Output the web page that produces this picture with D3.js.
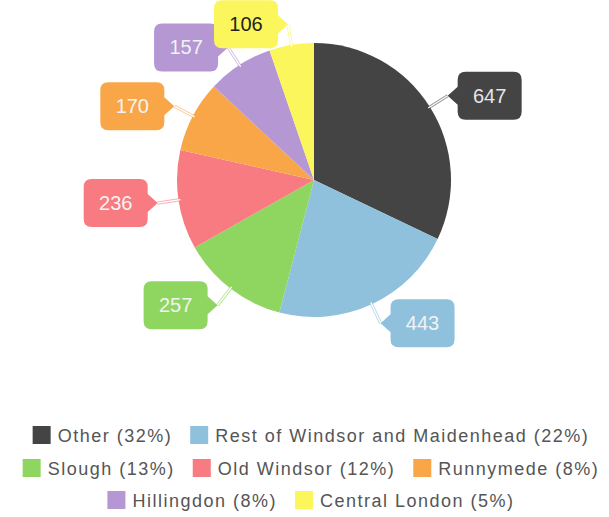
<!DOCTYPE html>
<html><head><meta charset="utf-8">
<script src="https://cdn.jsdelivr.net/npm/d3@7"></script>
<style>body{margin:0;background:#fff;}svg{display:block;}</style>
</head><body>
<svg id="c" width="609" height="517"></svg>
<script>
const categories = ["Other","Rest of Windsor and Maidenhead","Slough","Old Windsor","Runnymede","Hillingdon","Central London"];
const values = [647,443,257,236,170,157,106];
const colors = ["#444444","#8fc1dd","#8fd660","#f77b80","#f9a649","#b597d4","#fbf65c"];
const labelTextColors = ["#e6e6e6","#f2f2f2","#f2f2f2","#f4f4f4","#f4f4f4","#f2f2f2","#222222"];
const legendRows = [[0,1],[2,3,4],[5,6]];

const svg = d3.select("#c");
const cx = 314, cy = 180, R = 137;
const total = d3.sum(values);
const pie = d3.pie().sort(null).value(d=>d)(values);
const arc = d3.arc().innerRadius(0).outerRadius(R);
const g = svg.append("g").attr("transform",`translate(${cx},${cy})`);

g.selectAll("path.slice").data(pie).join("path")
  .attr("class","slice").attr("d",arc).attr("fill",(d,i)=>colors[i]);

// callouts
const tipR = 158, bw = 64, bh = 48, gap = 10, cr = 8;
pie.forEach((d,i)=>{
  const a = (d.startAngle+d.endAngle)/2;
  const sx = (R-2)*Math.sin(a), sy = -(R-2)*Math.cos(a);
  const tx = tipR*Math.sin(a), ty = -tipR*Math.cos(a);
  const right = Math.sin(a) >= 0;
  // connector
  g.append("line").attr("x1",sx).attr("y1",sy).attr("x2",tx).attr("y2",ty)
    .attr("stroke",colors[i]).attr("stroke-opacity",0.6).attr("stroke-width",3.2);
  g.append("line").attr("x1",sx).attr("y1",sy).attr("x2",tx).attr("y2",ty)
    .attr("stroke","#fff").attr("stroke-width",1.3);
  // box
  const x0 = right ? tx+gap : tx-gap-bw;
  const y0 = ty - bh/2;
  const x1 = x0+bw, y1 = y0+bh;
  const ph = 9;
  let p = d3.path();
  p.moveTo(x0+cr,y0);
  p.lineTo(x1-cr,y0); p.quadraticCurveTo(x1,y0,x1,y0+cr);
  if(!right){ p.lineTo(x1,ty-ph); p.lineTo(tx,ty); p.lineTo(x1,ty+ph); }
  p.lineTo(x1,y1-cr); p.quadraticCurveTo(x1,y1,x1-cr,y1);
  p.lineTo(x0+cr,y1); p.quadraticCurveTo(x0,y1,x0,y1-cr);
  if(right){ p.lineTo(x0,ty+ph); p.lineTo(tx,ty); p.lineTo(x0,ty-ph); }
  p.lineTo(x0,y0+cr); p.quadraticCurveTo(x0,y0,x0+cr,y0);
  p.closePath();
  g.append("path").attr("d",p.toString()).attr("fill",colors[i]);
  g.append("text").attr("x",(x0+x1)/2).attr("y",ty+7)
    .attr("text-anchor","middle").attr("font-family","Liberation Sans, Arial, sans-serif")
    .attr("font-size",20).attr("fill",labelTextColors[i]).text(values[i]);
});

// legend
const lg = svg.append("g");
const rowY = [435,468,500];
const sq = 18, sqGap = 7, itemGap = 18, legendCx = 311;
legendRows.forEach((row,ri)=>{
  const rg = lg.append("g");
  let x = 0;
  row.forEach(i=>{
    const pct = Math.round(values[i]/total*100);
    rg.append("rect").attr("x",x).attr("y",-sq/2).attr("width",sq).attr("height",sq).attr("fill",colors[i]);
    const t = rg.append("text").attr("x",x+sq+sqGap).attr("y",6.5)
      .attr("font-family","Liberation Sans, Arial, sans-serif").attr("font-size",18)
      .attr("letter-spacing",1.5).attr("fill","#555").text(`${categories[i]} (${pct}%)`);
    x += sq+sqGap+t.node().getComputedTextLength()+itemGap;
  });
  const w = x-itemGap;
  rg.attr("transform",`translate(${legendCx-w/2},${rowY[ri]})`);
});
</script>
</body></html>
